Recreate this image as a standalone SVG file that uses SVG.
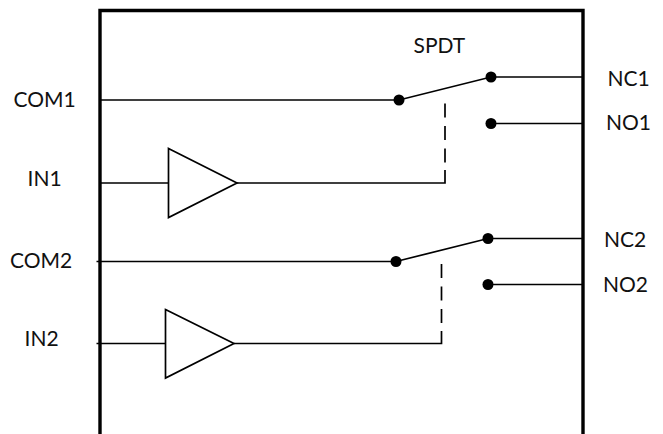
<svg xmlns="http://www.w3.org/2000/svg" width="663" height="434" viewBox="0 0 663 434">
<style>
.frame{fill:none;stroke:#000;stroke-width:3.4;stroke-linejoin:miter}
.w{fill:none;stroke:#000;stroke-width:1.7}
.d{fill:none;stroke:#000;stroke-width:1.7;stroke-dasharray:14 8.500}
.tri{fill:#fff;stroke:#000;stroke-width:1.7}
.dot{fill:#000}
text{font-family:Lato,"Open Sans","Liberation Sans",sans-serif;font-size:21px;fill:#111}
</style>
<rect width="663" height="434" fill="#fff"/>
<g id="connectors">
<path class="w" d="M101 100H399L491 77H582"/>
<path class="w" d="M491 123.500H582"/>
<path class="w" d="M101 183H168.500M237 183H445V170"/>
<path class="d" d="M445 103.500V170"/>
<path class="w" d="M96.500 261.500H396L488 238.500H582"/>
<path class="w" d="M488 284.500H582"/>
<path class="w" d="M96.500 343.500H165.500M234 343.500H441.500V331"/>
<path class="d" d="M441.500 264V331"/>
</g>
<g id="chip"><path class="frame" d="M100 434V10.500H583V434"/></g>
<g id="spdt-label"><text x="413.500" y="52.500">SPDT</text></g>
<g id="buffer1"><polygon class="tri" points="168.500,148.500 237,183 168.500,217.500"/></g>
<g id="buffer2"><polygon class="tri" points="165.500,309.500 234,343.500 165.500,378"/></g>
<g id="switch1-contacts"><circle class="dot" cx="399" cy="100" r="5.500"/><circle class="dot" cx="491" cy="77" r="5.500"/><circle class="dot" cx="491" cy="123.500" r="5.500"/></g>
<g id="switch2-contacts"><circle class="dot" cx="396" cy="261.500" r="5.500"/><circle class="dot" cx="488" cy="238.500" r="5.500"/><circle class="dot" cx="488" cy="284.500" r="5.500"/></g>
<g id="pin-com1"><text x="13.500" y="106.500">COM1</text></g>
<g id="pin-in1"><text x="27.500" y="186">IN1</text></g>
<g id="pin-com2"><text x="10" y="268">COM2</text></g>
<g id="pin-in2"><text x="24.500" y="346">IN2</text></g>
<g id="pin-nc1"><text x="607.500" y="86">NC1</text></g>
<g id="pin-no1"><text x="606" y="130">NO1</text></g>
<g id="pin-nc2"><text x="604" y="246.500">NC2</text></g>
<g id="pin-no2"><text x="603" y="291.500">NO2</text></g>
</svg>
